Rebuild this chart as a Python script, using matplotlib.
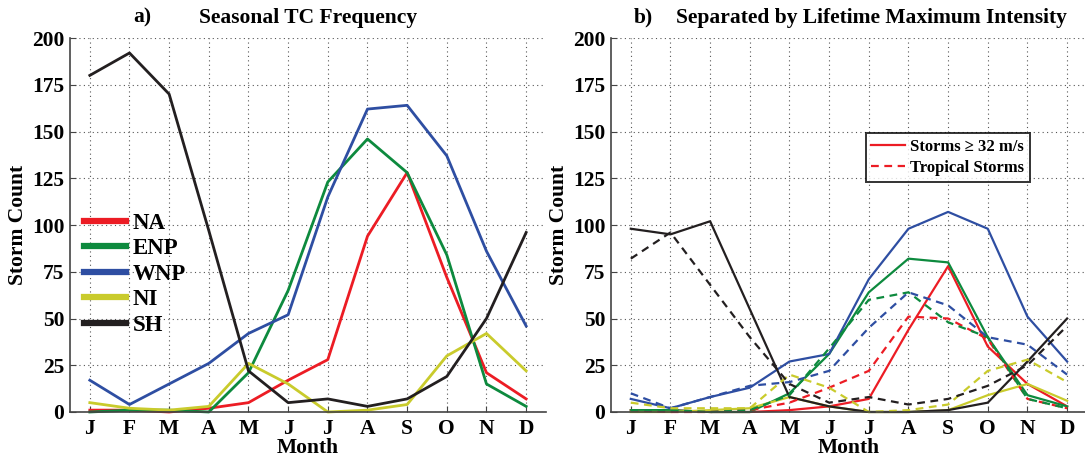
import numpy as np
import matplotlib
matplotlib.use("Agg")
import matplotlib.pyplot as plt
from matplotlib.lines import Line2D

plt.rcParams['font.family'] = ['Liberation Serif', 'DejaVu Serif']
plt.rcParams['font.weight'] = 'bold'

# data
months = ["J", "F", "M", "A", "M", "J", "J", "A", "S", "O", "N", "D"]
basins = ["NA", "ENP", "WNP", "NI", "SH"]
colors = ["#ec1c24", "#0d8a3e", "#2e4ea2", "#c9cb2c", "#231f20"]

# panel a - all storms
na_all = [1, 1, 0, 2, 5, 17, 28, 94, 128, 72, 21, 7]
enp_all = [0, 1, 1, 0, 21, 65, 123, 146, 128, 84, 15, 3]
wnp_all = [17, 4, 15, 26, 42, 52, 115, 162, 164, 137, 86, 46]
ni_all = [5, 2, 1, 3, 26, 15, 0, 1, 4, 30, 42, 22]
sh_all = [180, 192, 170, 97, 22, 5, 7, 3, 7, 19, 50, 96]

# panel b - storms >= 32 m/s
na_strong = [1, 1, 0, 0, 1, 3, 7, 44, 78, 35, 15, 3]
enp_strong = [1, 1, 0, 0, 10, 31, 64, 82, 80, 40, 9, 3]
wnp_strong = [7, 2, 8, 13, 27, 31, 71, 98, 107, 98, 51, 27]
ni_strong = [0, 0, 1, 2, 8, 3, 0, 0, 1, 9, 15, 6]
sh_strong = [98, 95, 102, 55, 8, 3, 0, 0, 1, 5, 27, 50]

# panel b - tropical storms
na_ts = [1, 0, 0, 1, 5, 13, 22, 51, 50, 39, 7, 2]
enp_ts = [1, 1, 0, 1, 9, 34, 60, 64, 48, 40, 7, 2]
wnp_ts = [10, 2, 8, 14, 16, 22, 45, 64, 57, 40, 36, 20]
ni_ts = [5, 2, 2, 2, 20, 13, 0, 1, 4, 22, 28, 16]
sh_ts = [82, 96, 68, 40, 15, 5, 8, 4, 7, 14, 25, 46]

all_series = [na_all, enp_all, wnp_all, ni_all, sh_all]
strong_series = [na_strong, enp_strong, wnp_strong, ni_strong, sh_strong]
ts_series = [na_ts, enp_ts, wnp_ts, ni_ts, sh_ts]

x = np.arange(1, 13)

fig = plt.figure(figsize=(10.85, 4.59), dpi=100)
ax1 = fig.add_axes([0.0645, 0.1024, 0.4387, 0.8148])
ax2 = fig.add_axes([0.5631, 0.1024, 0.4387, 0.8148])

FS = 15.5


def style_axes(ax):
    ax.set_xlim(0.5, 12.5)
    ax.set_ylim(0, 200)
    ax.set_xticks(x)
    ax.set_xticklabels(months)
    ax.set_yticks(np.arange(0, 201, 25))
    ax.grid(True, linestyle=(0, (1, 3)), color="#555555", linewidth=0.8)
    ax.set_axisbelow(True)
    for s in ["top", "right"]:
        ax.spines[s].set_visible(False)
    for s in ["left", "bottom"]:
        ax.spines[s].set_linewidth(1.2)
        ax.spines[s].set_color("#444444")
    ax.tick_params(axis="both", direction="in", length=4, labelsize=FS, pad=4,
                   color="#444444")
    ax.tick_params(axis="x", pad=5)
    for lab in ax.get_xticklabels() + ax.get_yticklabels():
        lab.set_fontweight("bold")
    ax.set_xlabel("Month", fontsize=FS, fontweight="bold", labelpad=-1)
    ax.set_ylabel("Storm Count", fontsize=FS, fontweight="bold", labelpad=3)


# panel a
for name, vals, c in zip(basins, all_series, colors):
    ax1.plot(x, vals, color=c, linewidth=2.0, label=name, clip_on=False)
style_axes(ax1)
leg = ax1.legend(loc="upper left", bbox_to_anchor=(0.0, 0.57), frameon=False,
                 fontsize=16.5, handlelength=1.85, handletextpad=0.3,
                 labelspacing=0.2, borderaxespad=0.2)
for line in leg.get_lines():
    line.set_linewidth(4.5)
ax1.text(0.153, 1.027, "a)", transform=ax1.transAxes, ha="center", va="bottom",
         fontsize=FS, fontweight="bold")
ax1.text(0.501, 1.027, "Seasonal TC Frequency", transform=ax1.transAxes,
         ha="center", va="bottom", fontsize=15.5, fontweight="bold")

# panel b
for vals, c in zip(strong_series, colors):
    ax2.plot(x, vals, color=c, linewidth=1.6, clip_on=False)
for vals, c in zip(ts_series, colors):
    ax2.plot(x, vals, color=c, linewidth=1.6, linestyle=(0, (3.5, 2.5)),
             clip_on=False)
style_axes(ax2)
handles = [Line2D([], [], color=colors[0], linewidth=1.6),
           Line2D([], [], color=colors[0], linewidth=1.6, linestyle=(0, (3.5, 2.5)))]
leg2 = ax2.legend(handles, ["Storms \u2265 32 m/s", "Tropical Storms"],
                  loc="upper left", bbox_to_anchor=(0.535, 0.745), fontsize=12,
                  frameon=True, fancybox=False, handlelength=2.0,
                  handletextpad=0.3, labelspacing=0.3, borderpad=0.35,
                  borderaxespad=0.0)
leg2.get_frame().set_edgecolor("black")
leg2.get_frame().set_linewidth(1.4)
ax2.text(0.069, 1.027, "b)", transform=ax2.transAxes, ha="center", va="bottom",
         fontsize=FS, fontweight="bold")
ax2.text(0.548, 1.027, "Separated by Lifetime Maximum Intensity",
         transform=ax2.transAxes, ha="center", va="bottom", fontsize=15.5,
         fontweight="bold")

fig.savefig("out.png", dpi=100)
